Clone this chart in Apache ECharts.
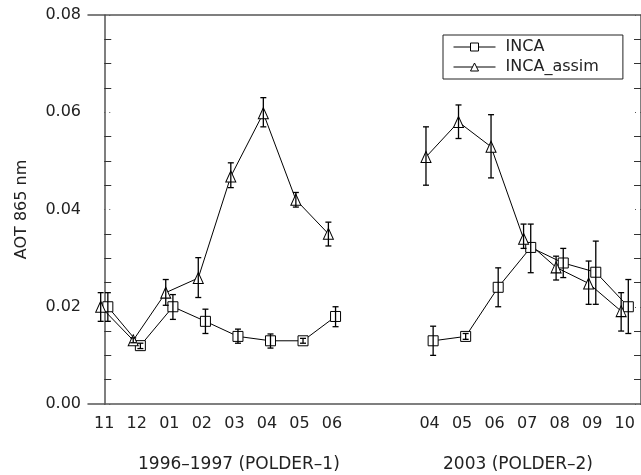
<!DOCTYPE html>
<html>
<head>
<meta charset="utf-8">
<script src="https://cdn.jsdelivr.net/npm/echarts@6/dist/echarts.min.js"></script>
<style>
html,body{margin:0;padding:0;background:#fff;}
#chart{width:641px;height:475px;}
</style>
</head>
<body>
<div id="chart"></div>
<script>
// Month categories (two blank slots separate the two periods)
const months = ['11','12','01','02','03','04','05','06','','','04','05','06','07','08','09','10'];
const periodLabels = ['1996\u20131997 (POLDER\u20131)', '2003 (POLDER\u20132)'];
const yTicks = [0, 0.02, 0.04, 0.06, 0.08];

// INCA (squares)
const inca   = [0.0200,0.0120,0.0200,0.0170,0.0139,0.0130,0.0130,0.0180,null,null,0.0130,0.0139,0.0240,0.0322,0.0290,0.0271,0.0200];
const incaLo = [0.0170,0.0114,0.0174,0.0145,0.0125,0.0115,0.0125,0.0159,null,null,0.0100,0.0133,0.0200,0.0270,0.0260,0.0205,0.0145];
const incaHi = [0.0229,0.0125,0.0225,0.0195,0.0154,0.0144,0.0135,0.0200,null,null,0.0160,0.0145,0.0280,0.0370,0.0320,0.0335,0.0256];

// INCA_assim (triangles)
const assim   = [0.0200,0.0131,0.0229,0.0259,0.0468,0.0598,0.0420,0.0350,null,null,0.0508,0.0580,0.0529,0.0340,0.0281,0.0248,0.0191];
const assimLo = [0.0170,0.0126,0.0203,0.0219,0.0445,0.0570,0.0405,0.0325,null,null,0.0450,0.0546,0.0465,0.0320,0.0255,0.0205,0.0150];
const assimHi = [0.0229,0.0136,0.0256,0.0301,0.0496,0.0630,0.0435,0.0374,null,null,0.0570,0.0615,0.0595,0.0370,0.0304,0.0294,0.0229];

const OFF = 0.11;
function linePts(vals, off){ return vals.map((v,i)=> v==null ? null : [i+off, v]); }
function errPts(vals, lo, hi, off){
  const out=[]; vals.forEach((v,i)=>{ if(v!=null) out.push([i+off, lo[i], hi[i]]); }); return out;
}
function errRender(params, api){
  const x = api.value(0);
  const p1 = api.coord([x, api.value(1)]);
  const p2 = api.coord([x, api.value(2)]);
  const h = 3;
  const st = {stroke:'#000', lineWidth:1.3};
  return {type:'group', children:[
    {type:'line', shape:{x1:p1[0],y1:p1[1],x2:p2[0],y2:p2[1]}, style:st},
    {type:'line', shape:{x1:p1[0]-h,y1:p1[1],x2:p1[0]+h,y2:p1[1]}, style:st},
    {type:'line', shape:{x1:p2[0]-h,y1:p2[1],x2:p2[0]+h,y2:p2[1]}, style:st}
  ]};
}

const FONT = 'DejaVu Sans';
const axisCol = '#555';
const chart = echarts.init(document.getElementById('chart'), null, {renderer:'canvas'});
chart.setOption({
  animation:false,
  textStyle:{fontFamily:FONT},
  grid:{left:88, top:15, width:559, height:389, containLabel:false},
  xAxis:[
    {type:'category', data:months, position:'bottom', boundaryGap:true,
     axisLine:{lineStyle:{color:axisCol, width:1.5}},
     axisTick:{inside:true, length:7, alignWithLabel:true, interval:0, lineStyle:{color:'#333'}},
     axisLabel:{interval:0, margin:12, fontSize:16, color:'#222', fontFamily:FONT},
     splitLine:{show:false}},
    {type:'value', min:-0.5, max:16.5, show:false},
    {type:'category', data:months, position:'top', boundaryGap:true,
     axisLine:{lineStyle:{color:axisCol, width:1.5}},
     axisTick:{inside:true, length:7, alignWithLabel:true, interval:0, lineStyle:{color:'#333'}},
     axisLabel:{show:false}, splitLine:{show:false}}
  ],
  yAxis:[
    {type:'value', min:0, max:0.08, interval:0.02, position:'left',
     name:'AOT 865 nm', nameLocation:'middle', nameGap:58, nameRotate:90,
     nameTextStyle:{fontSize:16, color:'#222', fontFamily:FONT},
     axisLine:{show:true, lineStyle:{color:axisCol, width:1.5}},
     axisTick:{show:true, inside:true, length:9, lineStyle:{color:'#555', type:[1,4]}},
     minorTick:{show:true, splitNumber:4, length:7, lineStyle:{color:'#333'}},
     axisLabel:{margin:7, fontSize:16, color:'#222', fontFamily:FONT, formatter:v=>v.toFixed(2)},
     splitLine:{show:false}, minorSplitLine:{show:false}},
    {type:'value', min:0, max:0.08, interval:0.02, position:'right',
     axisLine:{show:true, lineStyle:{color:axisCol, width:1.5}},
     axisTick:{show:true, inside:true, length:9, lineStyle:{color:'#555', type:[1,4]}},
     minorTick:{show:true, splitNumber:4, length:7, lineStyle:{color:'#333'}},
     axisLabel:{show:false}, splitLine:{show:false}}
  ],
  legend:{
    orient:'vertical', left:443, top:35, padding:[4,24,4,10], itemGap:4,
    itemWidth:42, itemHeight:10,
    borderColor:'#222', borderWidth:1, backgroundColor:'#fff',
    data:['INCA','INCA_assim'],
    formatter:n=>' '+n,
    lineStyle:{width:1},
    itemStyle:{borderWidth:1},
    textStyle:{fontSize:16, color:'#222', fontFamily:FONT}
  },
  graphic:[
    {type:'text', left:138, top:456, style:{text:periodLabels[0], font:'17px "DejaVu Sans"', fill:'#222'}},
    {type:'text', left:443, top:456, style:{text:periodLabels[1], font:'17px "DejaVu Sans"', fill:'#222'}}
  ],
  series:[
    {name:'INCA', type:'line', xAxisIndex:1, yAxisIndex:0, data:linePts(inca, OFF),
     symbol:'rect', symbolSize:10, connectNulls:false,
     lineStyle:{color:'#000', width:1}, itemStyle:{color:'#fff', borderColor:'#000', borderWidth:1}, z:3},
    {name:'INCA_assim', type:'line', xAxisIndex:1, yAxisIndex:0, data:linePts(assim, -OFF),
     symbol:'triangle', symbolSize:[10,11], connectNulls:false,
     lineStyle:{color:'#000', width:1}, itemStyle:{color:'#fff', borderColor:'#000', borderWidth:1}, z:3},
    {type:'custom', xAxisIndex:1, yAxisIndex:0, renderItem:errRender,
     data:errPts(inca, incaLo, incaHi, OFF), encode:{x:0, y:[1,2]}, z:4, silent:true},
    {type:'custom', xAxisIndex:1, yAxisIndex:0, renderItem:errRender,
     data:errPts(assim, assimLo, assimHi, -OFF), encode:{x:0, y:[1,2]}, z:4, silent:true}
  ]
});
</script>
</body>
</html>
